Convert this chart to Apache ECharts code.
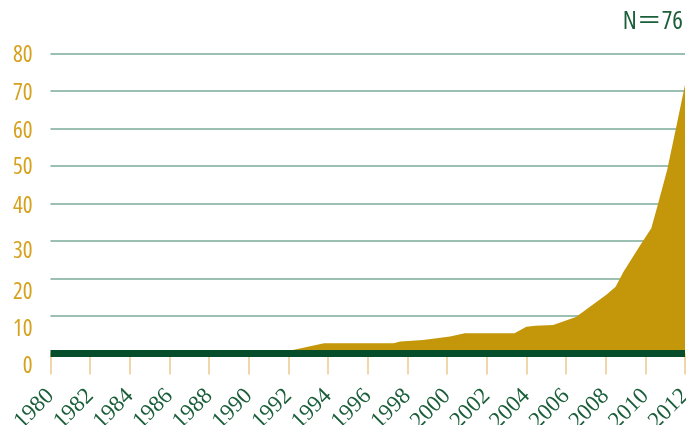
<!DOCTYPE html>
<html>
<head>
<meta charset="utf-8">
<script src="https://cdn.jsdelivr.net/npm/echarts@6/dist/echarts.min.js"></script>
<style>
html,body{margin:0;padding:0;background:#fff;}
#chart{width:686px;height:425px;}
</style>
</head>
<body>
<div id="chart"></div>
<script>
// Data (fractional years where the outline bends)
const years = [1980, 1991.4, 1993.8, 1997.3, 1997.65, 1998.8, 2000.15, 2000.9, 2003.4, 2004.0, 2004.45, 2005.35, 2006.5, 2008.05, 2008.5, 2008.9, 2009.7, 2010.3, 2010.6, 2011.1, 2011.6, 2012];
const counts = [0, 0, 2.7, 2.7, 3.2, 3.6, 4.5, 5.4, 5.4, 7.15, 7.4, 7.6, 9.7, 15.7, 17.8, 21.8, 28.5, 33.4, 39.1, 48.9, 61.4, 71.6];
const yTicks = [0, 10, 20, 30, 40, 50, 60, 70, 80];
const xTicks = [1980, 1982, 1984, 1986, 1988, 1990, 1992, 1994, 1996, 1998, 2000, 2002, 2004, 2006, 2008, 2010, 2012];
const noteText = 'N＝76';

// style: vertical shift (px) of each y tick label relative to its gridline
const yLabelShift = {0: 12.5, 10: 13, 20: 13.6, 30: 10.3, 40: 3, 50: 1.7, 60: 3, 70: 3, 80: 2.4};

const GOLD = '#c4960a';
const DARK = '#064e2b';
const LABEL_GOLD = '#d6a11c';
const LABEL_GREEN = '#1b5e3a';
const COND = "'Open Sans', Roboto, 'Noto Sans CJK JP', sans-serif";

const rich = {};
yTicks.forEach(v => {
  rich['s' + v] = {
    color: LABEL_GOLD, fontSize: 23, fontFamily: COND, fontWeight: 'condensed',
    padding: [2 * yLabelShift[v], 0, 0, 0]
  };
});

const chart = echarts.init(document.getElementById('chart'), null, {renderer: 'canvas'});
const option = {
  animation: false,
  backgroundColor: '#ffffff',
  grid: {left: 50.5, right: 1, top: 53.3, bottom: 71.5, containLabel: false, outerBoundsMode: 'none'},
  xAxis: [{
    type: 'value', min: xTicks[0], max: xTicks[xTicks.length - 1], interval: 2,
    position: 'bottom', z: 5,
    axisLine: {show: true, onZero: false, lineStyle: {color: DARK, width: 7, cap: 'butt'}},
    axisTick: {show: false},
    splitLine: {show: false},
    axisLabel: {
      show: true, rotate: 45, margin: 39, color: LABEL_GREEN,
      fontFamily: "'Liberation Serif', 'DejaVu Serif', serif", fontSize: 23,
      showMinLabel: true, showMaxLabel: true,
      formatter: v => String(v)
    }
  }, {
    type: 'value', min: xTicks[0], max: xTicks[xTicks.length - 1], interval: 2,
    position: 'bottom', offset: 3.5, z: 1,
    axisLine: {show: false},
    axisTick: {show: true, length: 21, lineStyle: {color: '#ebc98c', width: 1.5}},
    splitLine: {show: false},
    axisLabel: {show: false}
  }],
  yAxis: {
    type: 'value', min: 0, max: 80, interval: 10,
    axisLine: {show: false},
    axisTick: {show: false},
    splitLine: {show: true, lineStyle: {color: '#7aab98', width: 1.5}},
    axisLabel: {
      margin: 18, color: LABEL_GOLD, fontSize: 23, fontFamily: COND, fontWeight: 'condensed',
      formatter: v => '{s' + v + '|' + v + '}',
      rich: rich
    }
  },
  series: [{
    type: 'line',
    xAxisIndex: 0,
    data: years.map((y, i) => [y, counts[i]]),
    symbol: 'none',
    lineStyle: {width: 0},
    areaStyle: {color: GOLD, opacity: 1},
    z: 2
  }],
  graphic: [{
    type: 'text', right: 3, top: 9,
    style: {text: noteText, font: "condensed 25px " + COND, fill: LABEL_GREEN}
  }]
};
chart.setOption(option);
</script>
</body>
</html>
